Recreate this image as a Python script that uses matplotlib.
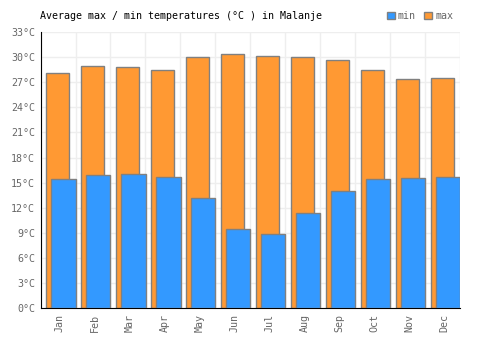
import numpy as np
import matplotlib.pyplot as plt
import matplotlib.patches as mpatches

months = ['Jan', 'Feb', 'Mar', 'Apr', 'May', 'Jun', 'Jul', 'Aug', 'Sep', 'Oct', 'Nov', 'Dec']
tmax = [28.1, 28.9, 28.8, 28.5, 30.0, 30.4, 30.1, 30.0, 29.7, 28.5, 27.4, 27.5]
tmin = [15.4, 15.9, 16.0, 15.7, 13.2, 9.5, 8.85, 11.4, 14.0, 15.4, 15.55, 15.7]
yticks = [0, 3, 6, 9, 12, 15, 18, 21, 24, 27, 30, 33]

orange = '#ff9933'
blue = '#3399ff'
edge = '#808080'

plt.rcParams['font.family'] = 'DejaVu Sans Mono'

fig = plt.figure(figsize=(5, 3.5), dpi=100)
ax = fig.add_axes([40.5/500, 1 - 308.3/350, 420/500, 276.3/350])

x = np.arange(len(months))
ax.bar(x + 0.143, tmax, width=0.67, align='edge', color=orange, edgecolor=edge, linewidth=1, zorder=2)
ax.bar(x + 0.286, tmin, width=0.714, align='edge', color=blue, edgecolor=edge, linewidth=1, zorder=3)

ax.set_xlim(0, 12)
ax.set_ylim(0, 33)
ax.set_yticks(yticks)
ax.set_yticklabels([str(t) + '°C' for t in yticks])
ax.set_xticks(np.arange(13), minor=True)
ax.set_xticks(x + 0.55)
ax.set_xticklabels(months, rotation=90)
ax.grid(True, which='minor', axis='x', color='#eeeeee', linewidth=1, zorder=0)
ax.grid(True, which='major', axis='y', color='#eeeeee', linewidth=1, zorder=0)
ax.tick_params(axis='both', which='both', length=0, labelsize=7.2, colors='#666666', pad=4)
ax.tick_params(axis='x', which='major', labelrotation=90)

for s in ['top', 'right']:
    ax.spines[s].set_visible(False)
ax.spines['left'].set_color('black')
ax.spines['bottom'].set_color('black')
ax.set_axisbelow(True)

fig.text(40/500, 1 - 16/350, 'Average max / min temperatures (°C ) in Malanje',
         fontsize=7.2, color='black', va='center', ha='left')

h_min = mpatches.Patch(facecolor=blue, edgecolor=edge, label='min')
h_max = mpatches.Patch(facecolor=orange, edgecolor=edge, label='max')
fig.legend(handles=[h_min, h_max], ncol=2, loc='center right', bbox_to_anchor=(458/500, 1 - 16/350),
           frameon=False, fontsize=7.2, handlelength=0.8, handleheight=0.8, handletextpad=0.3,
           columnspacing=0.8, borderpad=0, labelcolor='#666666')

fig.savefig('out.png', dpi=100)
